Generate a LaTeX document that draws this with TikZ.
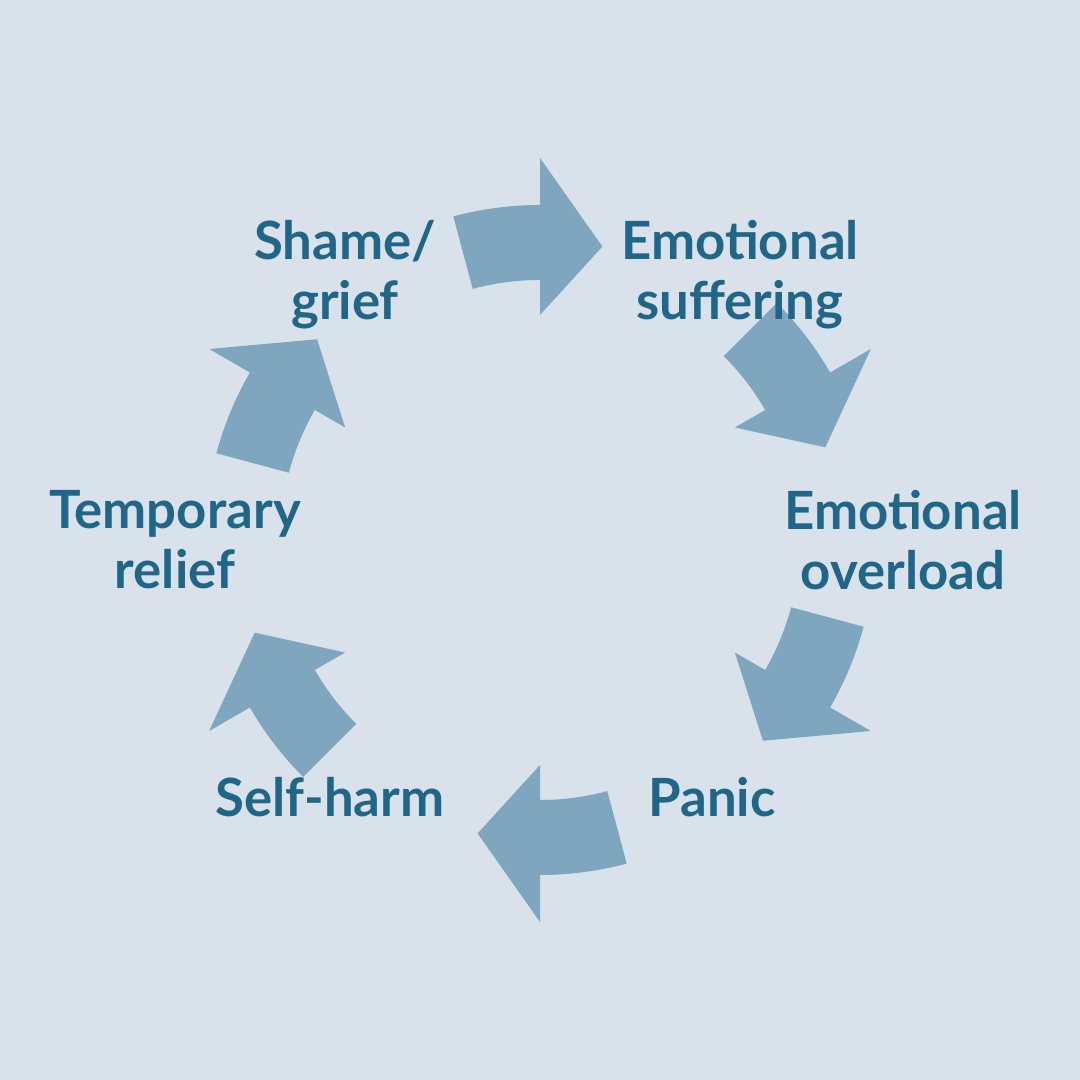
\documentclass[tikz,border=0pt]{standalone}
\usepackage{fontspec}
\setmainfont{Lato}
\usetikzlibrary{calc}
\definecolor{bgblue}{HTML}{D9E1EA}
\definecolor{arrowblue}{HTML}{7FA6BF}
\definecolor{textblue}{HTML}{1F6688}
\tikzset{
  stage/.style={text=textblue, font=\bfseries\fontsize{15}{17}\selectfont, align=center},
  cyclearrow/.style={fill=arrowblue}
}
\begin{document}
\begin{tikzpicture}

  % background
  \fill[bgblue] (0,0) rectangle (10.8,10.8);
  \coordinate (O) at (5.4,5.4);

  % arrows around the cycle
  \foreach \a/\d in {90/0, 30/0.35, -30/0.35, -90/0, -150/0.35, 150/0.35}
    \fill[cyclearrow, shift={(\a:\d)}]
      ($(O)+(\a+15:2.6)$) arc[start angle=\a+15, end angle=\a, radius=2.6]
      -- ($(O)+(\a:2.25)$) -- ($(O)+(\a-12:3.0)$) -- ($(O)+(\a:3.82)$)
      -- ($(O)+(\a:3.35)$) arc[start angle=\a, end angle=\a+15, radius=3.35]
      -- cycle;

  % labels
  \node[stage] (shame) at (3.45,8.05) {Shame/\\grief};
  \node[stage] (suffering) at (7.4,8.05) {Emotional\\suffering};
  \node[stage] (overload) at (9.03,5.4) {Emotional\\overload};
  \node[stage] (panic) at (7.12,2.83) {Panic};
  \node[stage] (selfharm) at (3.3,2.83) {Self-harm};
  \node[stage] (relief) at (1.75,5.4) {Temporary\\relief};

\end{tikzpicture}
\end{document}
